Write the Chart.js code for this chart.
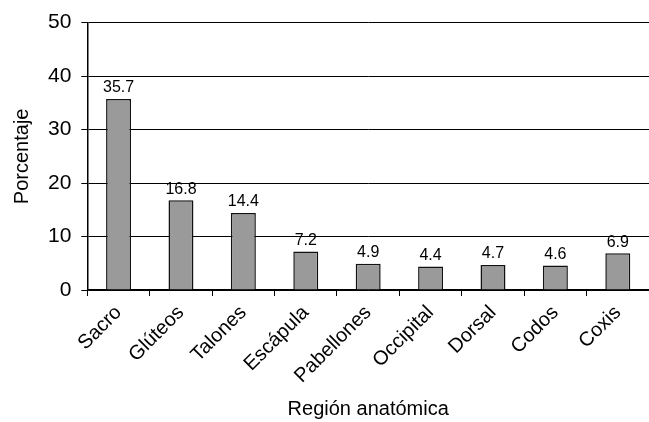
<!DOCTYPE html>
<html>
<head>
<meta charset="utf-8">
<script src="https://cdn.jsdelivr.net/npm/chart.js@4"></script>
<style>
    html, body { margin: 0; padding: 0; background: #ffffff; }
    #wrap { width: 649px; height: 422px; }
</style>
</head>
<body>
<div id="wrap"><canvas id="grafico" width="649" height="422"></canvas></div>
<script>
const regiones = ["Sacro", "Glúteos", "Talones", "Escápula", "Pabellones", "Occipital", "Dorsal", "Codos", "Coxis"];
const porcentajes = [35.7, 16.8, 14.4, 7.2, 4.9, 4.4, 4.7, 4.6, 6.9];
const ticksY = [0, 10, 20, 30, 40, 50];

const fuente = "'Liberation Sans', Arial, sans-serif";

// etiquetas encima de cada barra
const etiquetas = {
    id: "etiquetas",
    afterDatasetsDraw(chart) {
        const ctx = chart.ctx;
        const meta = chart.getDatasetMeta(0);
        ctx.save();
        ctx.font = "16px " + fuente;
        ctx.fillStyle = "#000";
        ctx.textAlign = "center";
        ctx.textBaseline = "bottom";
        meta.data.forEach((barra, i) => {
            ctx.fillText(porcentajes[i].toFixed(1), barra.x, barra.y - 3);
        });
        ctx.restore();
    }
};

new Chart(document.getElementById("grafico"), {
    type: "bar",
    data: {
        labels: regiones,
        datasets: [{
            data: porcentajes,
            backgroundColor: "#9a9a9a",
            borderColor: "#111",
            borderWidth: 1.5,
            barPercentage: 0.4,
            categoryPercentage: 1
        }]
    },
    options: {
        responsive: false,
        animation: false,
        layout: { padding: { top: 1, right: 0, left: 6, bottom: -3 } },
        plugins: {
            legend: { display: false },
            tooltip: { enabled: false }
        },
        scales: {
            x: {
                grid: {
                    display: true,
                    drawOnChartArea: false,
                    color: "#000",
                    tickLength: 6,
                    offset: true
                },
                border: { color: "#000", width: 1.5 },
                ticks: {
                    color: "#000",
                    font: { size: 20, family: fuente },
                    minRotation: 45,
                    maxRotation: 45,
                    padding: 5
                },
                title: {
                    display: true,
                    text: "Región anatómica",
                    color: "#000",
                    font: { size: 20, family: fuente },
                    padding: { top: 4 }
                }
            },
            y: {
                min: 0,
                max: 50,
                afterBuildTicks: scale => {
                    scale.ticks = ticksY.map(v => ({ value: v }));
                },
                grid: {
                    color: "#000",
                    lineWidth: 1,
                    tickLength: 6
                },
                border: { color: "#000", width: 1.5 },
                ticks: {
                    color: "#000",
                    font: { size: 21, family: fuente },
                    padding: 10
                },
                title: {
                    display: true,
                    text: "Porcentaje",
                    color: "#000",
                    font: { size: 20, family: fuente },
                    padding: { bottom: 4 }
                }
            }
        }
    },
    plugins: [etiquetas]
});
</script>
</body>
</html>
